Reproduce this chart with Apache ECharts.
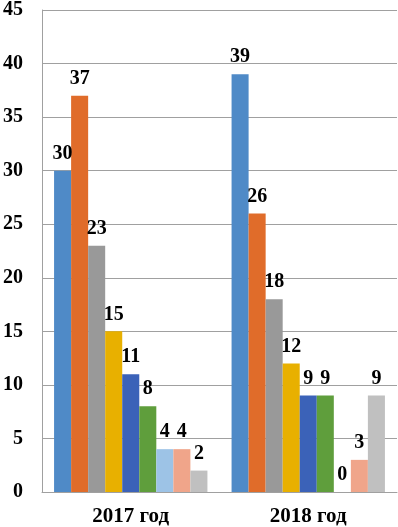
<!DOCTYPE html>
<html>
<head>
<meta charset="utf-8">
<script src="https://cdn.jsdelivr.net/npm/echarts@6/dist/echarts.min.js"></script>
<style>
  html, body { margin: 0; padding: 0; background: #fff; }
  #chart { width: 398px; height: 527px; }
</style>
</head>
<body>
<div id="chart"></div>
<script>
const categories = ['2017 год', '2018 год']
const seriesValues = [
  [30, 39],
  [37, 26],
  [23, 18],
  [15, 12],
  [11, 9],
  [8, 9],
  [4, 0],
  [4, 3],
  [2, 9]
]
const colors = ['#4f8ac7', '#e06c2a', '#999999', '#e8b000', '#3b62b8',
  '#5f9e3c', '#9dc3e6', '#f0a58a', '#c0c0c0']

const font = '"Liberation Serif", "Times New Roman", serif'
const chart = echarts.init(document.getElementById('chart'))

const series = seriesValues.map((vals, i) => ({
  type: 'bar',
  data: vals,
  barGap: '0%',
  barCategoryGap: '13.6%',
  itemStyle: { color: colors[i] },
  label: {
    show: true,
    position: 'top',
    distance: 7,
    color: '#000',
    fontFamily: font,
    fontWeight: 'bold',
    fontSize: 20
  }
}))

chart.setOption({
  animation: false,
  grid: { left: 38, right: 1, top: 8, bottom: 34 },
  xAxis: {
    type: 'category',
    data: categories,
    axisTick: { show: false },
    axisLine: { lineStyle: { color: '#a0a0a0', width: 1 } },
    axisLabel: {
      margin: 14,
      color: '#000',
      fontFamily: font,
      fontWeight: 'bold',
      fontSize: 21
    }
  },
  yAxis: {
    type: 'value',
    min: 0,
    max: 45,
    interval: 5,
    axisLine: { show: true, lineStyle: { color: '#a0a0a0' } },
    axisTick: { show: false },
    splitLine: { lineStyle: { color: '#a0a0a0' } },
    axisLabel: {
      margin: 19,
      color: '#000',
      fontFamily: font,
      fontWeight: 'bold',
      fontSize: 20
    }
  },
  series: series
})
</script>
</body>
</html>
